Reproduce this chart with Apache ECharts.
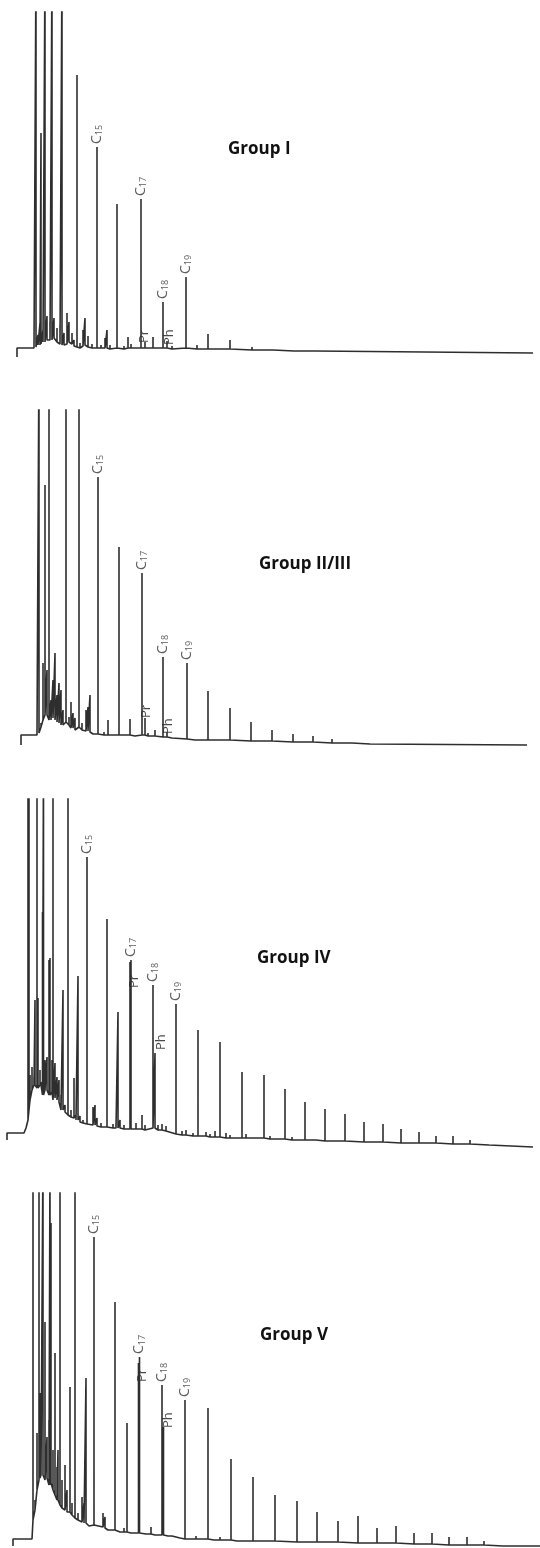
<!DOCTYPE html>
<html>
<head>
<meta charset="utf-8">
<script src="https://cdn.jsdelivr.net/npm/echarts@6/dist/echarts.min.js"></script>
<style>
  html, body { margin: 0; padding: 0; background: #ffffff; }
  #chart { width: 540px; height: 1548px; }
</style>
</head>
<body>
<div id="chart"></div>
<script>
// ---------- DATA (retention time in min, intensity in arbitrary units) ----------
const groupNames = ['Group I', 'Group II/III', 'Group IV', 'Group V'];

// each peak: [retention time, apex intensity, foot (baseline) intensity]
const g1Lead = [[1.7, 3], [1.7, 12], [3.4, 12]];
const g1Peaks = [
  [3.6, 400, 13], [3.8, 25, 15], [4.0, 37, 15], [4.1, 227, 16], [4.3, 30, 18],
  [4.5, 400, 18], [4.7, 44, 20], [5.0, 38, 20], [5.2, 400, 20], [5.4, 42, 22],
  [5.7, 32, 18], [6.0, 35, 16], [6.2, 400, 15], [6.4, 27, 15], [6.7, 47, 16],
  [6.9, 38, 18], [7.2, 27, 16], [7.4, 20, 14], [7.7, 285, 13], [8.0, 17, 12],
  [8.3, 30, 14], [8.5, 42, 15], [8.8, 24, 13], [9.2, 16, 12], [9.7, 213, 12],
  [10.1, 15, 12], [10.5, 22, 12], [10.7, 30, 12], [11.0, 15, 11], [11.7, 156, 12],
  [12.4, 14, 11], [12.8, 23, 12], [13.1, 16, 12], [14.1, 161, 12], [14.5, 18, 12],
  [15.3, 23, 12], [15.7, 14, 12], [16.3, 58, 12], [16.7, 19, 12], [17.2, 14, 11],
  [18.6, 83, 12], [19.7, 15, 11], [20.8, 26, 11], [23.0, 20, 11], [25.2, 13, 10],
  [27.3, 12, 10], [29.4, 11, 9], [31.5, 10, 9]
];
const g1Tail = [[53.3, 7]];
const g1Labels = [['C15', 9.7, 213], ['C17', 14.1, 161], ['C18', 16.3, 58], ['C19', 18.6, 83], ['Pr', 14.4, 14], ['Ph', 16.9, 12]];

const g2Lead = [[2.1, 5], [2.1, 15], [3.7, 15]];
const g2Peaks = [
  [3.9, 400, 17], [4.1, 27, 23], [4.3, 87, 30], [4.5, 265, 35], [4.7, 80, 35],
  [4.9, 400, 30], [5.1, 50, 30], [5.3, 70, 32], [5.5, 97, 30], [5.7, 55, 28],
  [5.9, 67, 27], [6.1, 60, 25], [6.3, 40, 25], [6.6, 400, 28], [6.9, 33, 25],
  [7.1, 48, 22], [7.3, 37, 22], [7.5, 32, 20], [7.9, 400, 23], [8.2, 27, 20],
  [8.6, 40, 19], [8.8, 43, 19], [9.0, 55, 18], [9.3, 18, 16], [9.8, 273, 16],
  [10.4, 18, 15], [10.8, 30, 15], [11.2, 17, 15], [11.9, 203, 15], [12.5, 17, 15],
  [13.0, 31, 15], [13.5, 15, 14], [14.2, 177, 15], [14.5, 32, 15], [14.8, 17, 14],
  [15.5, 20, 14], [16.3, 93, 13], [16.7, 18, 13], [17.2, 14, 12], [18.7, 87, 11],
  [19.5, 12, 10], [20.8, 59, 10], [23.0, 42, 10], [25.1, 28, 9], [27.2, 20, 9],
  [29.3, 16, 8], [31.3, 14, 8], [33.2, 11, 7], [35.2, 9, 7], [37.0, 8, 6]
];
const g2Tail = [[52.7, 5]];
const g2Labels = [['C15', 9.8, 273], ['C17', 14.2, 177], ['C18', 16.3, 93], ['C19', 18.7, 87], ['Pr', 14.6, 29], ['Ph', 16.8, 13]];

const g3Lead = [[0.7, 10], [0.7, 17], [2.4, 17], [2.6, 22]];
const g3Peaks = [
  [2.8, 400, 30], [2.9, 400, 40], [3.0, 75, 50], [3.2, 83, 60], [3.4, 73, 65],
  [3.5, 150, 65], [3.7, 400, 62], [3.8, 152, 62], [4.0, 80, 65], [4.1, 68, 65],
  [4.25, 238, 55], [4.35, 400, 55], [4.5, 90, 60], [4.7, 93, 60], [4.9, 190, 55],
  [5.0, 192, 55], [5.2, 90, 58], [5.3, 400, 50], [5.5, 87, 52], [5.7, 73, 50],
  [5.9, 70, 48], [6.1, 55, 40], [6.3, 160, 40], [6.5, 45, 38], [6.8, 400, 35],
  [7.1, 40, 33], [7.4, 72, 32], [7.6, 35, 30], [7.8, 174, 30], [8.0, 34, 28],
  [8.3, 30, 27], [8.7, 293, 26], [9.3, 43, 25], [9.5, 45, 25], [9.7, 32, 24],
  [10.1, 27, 23], [10.7, 231, 23], [11.3, 26, 22], [11.6, 27, 22], [11.8, 138, 22],
  [12.0, 30, 22], [12.4, 25, 21], [13.0, 188, 21], [13.1, 190, 21], [13.6, 27, 21],
  [14.2, 35, 21], [14.5, 25, 20], [15.3, 165, 22], [15.5, 97, 22], [15.8, 25, 20],
  [16.2, 26, 20], [16.6, 24, 19], [17.6, 146, 16], [18.2, 19, 15], [18.6, 20, 15],
  [19.3, 17, 14], [19.8, 120, 14], [20.6, 18, 14], [21.0, 16, 13], [21.5, 19, 13],
  [22.0, 108, 13], [22.6, 17, 12], [23.0, 15, 12], [24.2, 78, 12], [24.6, 16, 12],
  [26.4, 75, 12], [27.0, 14, 11], [28.5, 61, 11], [29.2, 13, 10], [30.5, 48, 10],
  [31.6, 12, 10], [32.5, 41, 9], [33.4, 11, 9], [34.5, 36, 9], [36.4, 28, 8],
  [38.3, 26, 8], [40.1, 21, 7], [41.9, 18, 7], [43.6, 14, 7], [45.3, 14, 6],
  [47.0, 10, 6], [48.9, 7, 5]
];
const g3Tail = [[53.3, 3]];
const g3Labels = [['C15', 8.7, 293], ['C17', 13.1, 190], ['C18', 15.3, 165], ['C19', 17.6, 146], ['Pr', 13.45, 159], ['Ph', 16.1, 97]];

const g4Lead = [[1.3, 2], [1.3, 9], [3.2, 9]];
const g4Peaks = [
  [3.3, 400, 28], [3.5, 48, 38], [3.7, 115, 58], [3.9, 400, 68], [4.0, 155, 70],
  [4.1, 138, 73], [4.3, 400, 73], [4.5, 226, 68], [4.7, 111, 70], [4.9, 128, 63],
  [5.0, 400, 63], [5.1, 325, 65], [5.3, 98, 58], [5.5, 195, 53], [5.7, 81, 48],
  [5.8, 98, 48], [6.0, 400, 43], [6.2, 68, 40], [6.5, 83, 38], [6.7, 58, 36],
  [7.0, 161, 36], [7.2, 45, 33], [7.5, 400, 30], [7.8, 35, 28], [8.2, 51, 26],
  [8.4, 45, 25], [8.6, 170, 25], [8.9, 23, 22], [9.4, 311, 23], [10.3, 35, 21],
  [10.5, 31, 20], [10.8, 19, 18], [11.5, 246, 18], [12.0, 17, 16], [12.4, 20, 16],
  [12.7, 125, 16], [13.1, 17, 15], [13.85, 185, 15], [13.95, 191, 15], [14.6, 15, 14],
  [15.1, 21, 14], [15.5, 14, 13], [16.2, 163, 13], [16.35, 121, 13], [16.8, 13, 12],
  [17.2, 12, 12], [18.0, 11, 10], [18.5, 148, 9], [19.0, 11, 9], [19.6, 12, 9],
  [20.8, 140, 9], [21.4, 10, 8], [22.0, 11, 8], [23.1, 89, 8], [23.7, 9, 7],
  [25.3, 71, 7], [26.0, 9, 7], [27.5, 53, 7], [29.7, 47, 6], [31.7, 36, 6],
  [33.8, 27, 6], [35.8, 32, 5], [37.7, 20, 5], [39.6, 22, 5], [41.4, 15, 4],
  [43.2, 15, 4], [44.9, 11, 3], [46.7, 11, 3], [48.4, 7, 3], [50.3, 4, 2]
];
const g4Tail = [[54, 2]];
const g4Labels = [['C15', 9.4, 311], ['C17', 13.95, 191], ['C18', 16.2, 163], ['C19', 18.5, 148], ['Pr', 14.2, 163], ['Ph', 16.8, 117]];

// ---------- LAYOUT ----------
const panels = [
  { lead: g1Lead, peaks: g1Peaks, tail: g1Tail, labels: g1Labels, top: 12, height: 348, title: [228, 141] },
  { lead: g2Lead, peaks: g2Peaks, tail: g2Tail, labels: g2Labels, top: 410, height: 340, title: [259, 556] },
  { lead: g3Lead, peaks: g3Peaks, tail: g3Tail, labels: g3Labels, top: 799, height: 351, title: [257, 950] },
  { lead: g4Lead, peaks: g4Peaks, tail: g4Tail, labels: g4Labels, top: 1193, height: 355, title: [260, 1327] }
];

function trace(p) {
  const out = p.lead.map(d => [d[0], d[1]]);
  p.peaks.forEach(k => {
    out.push([k[0], k[2]]);
    out.push([k[0], k[1]]);
    out.push([k[0], k[2]]);
  });
  p.tail.forEach(d => out.push([d[0], d[1]]));
  return out;
}

function labelText(name) {
  const m = name.match(/^C(\d+)$/);
  if (m) return '{c|C}{s|' + m[1] + '}';
  return '{p|' + name + '}';
}

const FONT = '"Open Sans", "Liberation Sans", sans-serif';
const grid = [], xAxis = [], yAxis = [], series = [], title = [];

panels.forEach((p, i) => {
  grid.push({ left: 0, right: 0, top: p.top, height: p.height, containLabel: false });
  xAxis.push({ type: 'value', gridIndex: i, min: 0, max: 54, show: false });
  yAxis.push({ type: 'value', gridIndex: i, min: 0, max: p.height, show: false });
  title.push({
    text: groupNames[i], left: p.title[0], top: p.title[1], padding: 0,
    textStyle: { fontFamily: FONT, fontWeight: 'bold', fontSize: 17, color: '#111' }
  });
  series.push({
    type: 'line', xAxisIndex: i, yAxisIndex: i, data: trace(p),
    symbol: 'none', clip: true, silent: true, animation: false,
    lineStyle: { color: '#2e2e2e', width: 1.6 }
  });
  series.push({
    type: 'scatter', xAxisIndex: i, yAxisIndex: i, symbolSize: 0, silent: true, animation: false,
    data: p.labels.map(l => ({ value: [l[1], l[2]], name: l[0] })),
    label: {
      show: true, position: 'top', distance: 3, rotate: 90, align: 'left', verticalAlign: 'middle',
      formatter: prm => labelText(prm.name),
      rich: {
        c: { fontFamily: FONT, fontSize: 14, lineHeight: 14, color: '#333', verticalAlign: 'top' },
        s: { fontFamily: FONT, fontSize: 9, lineHeight: 9, color: '#333', verticalAlign: 'bottom', padding: [7, 0, 0, 0] },
        p: { fontFamily: FONT, fontSize: 13, lineHeight: 13, color: '#1a1a1a' }
      }
    }
  });
});

const chart = echarts.init(document.getElementById('chart'), null, { renderer: 'canvas' });
chart.setOption({ animation: false, backgroundColor: '#ffffff', title, grid, xAxis, yAxis, series });
</script>
</body>
</html>
